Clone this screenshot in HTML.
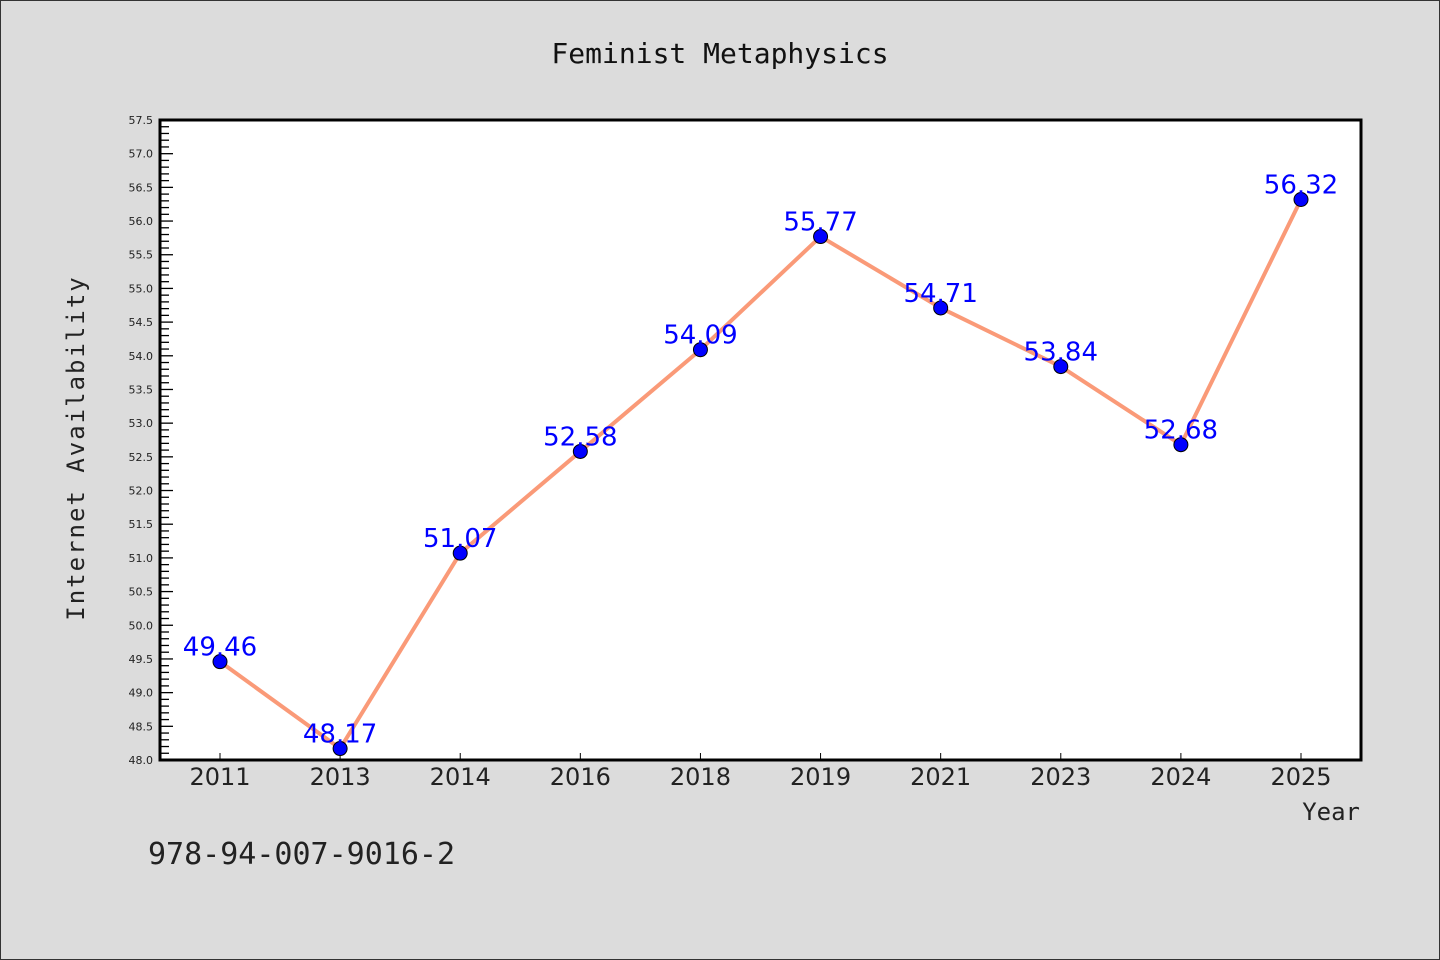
<!DOCTYPE html>
<html><head><meta charset="utf-8"><style>
body{margin:0;background:#dcdcdc;}
svg{display:block;font-family:"DejaVu Sans","Liberation Sans",sans-serif;}
</style></head><body>
<svg id="chart" width="1440" height="960">
<rect x="0.5" y="0.5" width="1439" height="959" fill="#dcdcdc" stroke="#333"/>
<text x="720" y="63" text-anchor="middle" font-size="28" font-family="DejaVu Sans Mono, Liberation Mono, monospace" fill="#111">Feminist Metaphysics</text>
<rect x="160" y="120" width="1201" height="640" fill="#fff"/>
<g id="yaxis"></g><g id="xaxis"></g><g id="series"></g>
<rect x="160" y="120" width="1201" height="640" fill="none" stroke="#000" stroke-width="3"/>
<text transform="translate(84,448) rotate(-90)" text-anchor="middle" font-size="24" letter-spacing="2" font-family="DejaVu Sans Mono, Liberation Mono, monospace" fill="#222">Internet Availability</text>
<text x="1360" y="820" text-anchor="end" font-size="24" font-family="DejaVu Sans Mono, Liberation Mono, monospace" fill="#222">Year</text>
<text x="148" y="864" font-size="30" font-family="DejaVu Sans Mono, Liberation Mono, monospace" fill="#222">978-94-007-9016-2</text>
</svg>
<script>
const categories=["2011","2013","2014","2016","2018","2019","2021","2023","2024","2025"];
const values=[49.46,48.17,51.07,52.58,54.09,55.77,54.71,53.84,52.68,56.32];
const valueLabels=["49.46","48.17","51.07","52.58","54.09","55.77","54.71","53.84","52.68","56.32"];
const yMin=48.0,yMax=57.5;
const NS="http://www.w3.org/2000/svg";
const L=160,R=1361,T=120,B=760;
const xs=i=>220+i*(R-L-120)/(categories.length-1);
const ys=v=>B-(v-yMin)*(B-T)/(yMax-yMin);
function mk(tag,attrs,parent){const e=document.createElementNS(NS,tag);for(const k in attrs)e.setAttribute(k,attrs[k]);parent.appendChild(e);return e;}
const ya=document.getElementById('yaxis');
for(let k=0;k<=Math.round((yMax-yMin)*10);k++){
 const v=yMin+k/10,y=ys(v),major=k%5===0;
 const t=mk('line',{x1:L,x2:L+(major?13:9),y1:y,y2:y,stroke:'#000','stroke-width':1.3},ya);
 
 
 if(major){const tx=mk('text',{x:153,y:y+4,'text-anchor':'end','font-size':11,fill:'#222'},ya);tx.textContent=v.toFixed(1);
 
 }
}
const xa=document.getElementById('xaxis');
categories.forEach((c,i)=>{
 const x=xs(i);
 const t=mk('line',{x1:x,x2:x,y1:B,y2:B-7,stroke:'#000','stroke-width':1},xa);
 
 
 const tx=mk('text',{x:x,y:785,'text-anchor':'middle','font-size':24,fill:'#222'},xa);tx.textContent=c;
 
 
});
const s=document.getElementById('series');
const pl=mk('polyline',{points:values.map((v,i)=>xs(i)+','+ys(v)).join(' '),fill:'none',stroke:'#fa9a78','stroke-width':4,'stroke-linejoin':'round'},s);


values.forEach((v,i)=>{
 const c=mk('circle',{cx:xs(i),cy:ys(v),r:7,fill:'#0000ff',stroke:'#000','stroke-width':1},s);
 
 
 const t=mk('text',{x:xs(i),y:ys(v)-6,'text-anchor':'middle','font-size':26,fill:'#0000ff'},s);t.textContent=valueLabels[i];
 
 
});
</script>
</body></html>
